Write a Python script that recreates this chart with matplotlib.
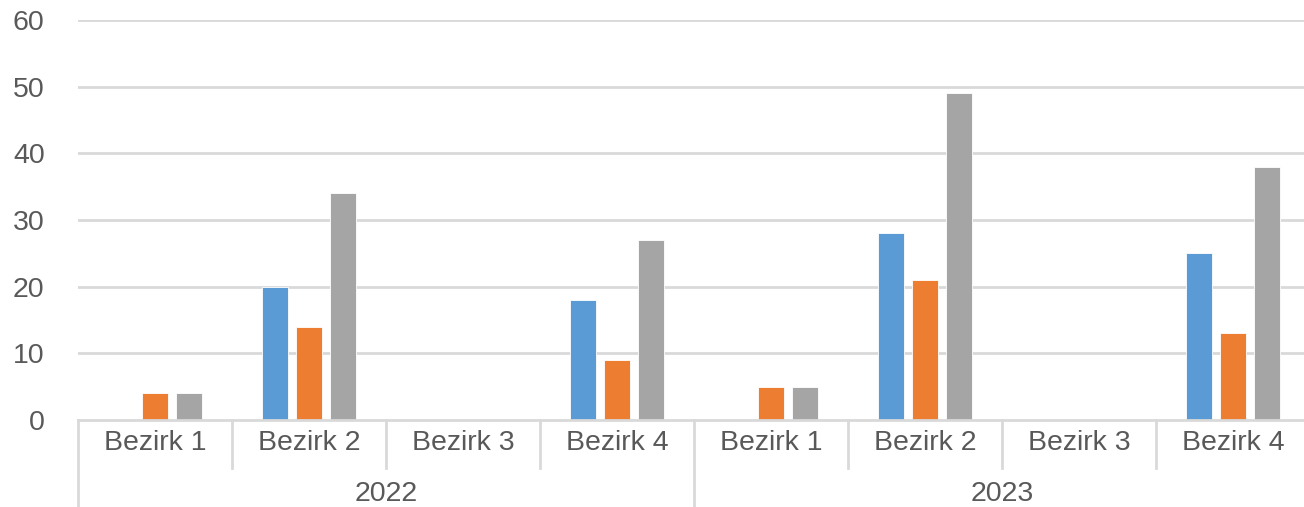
import matplotlib
matplotlib.use("Agg")
import matplotlib.pyplot as plt
import matplotlib.transforms as mtransforms
import numpy as np

years = ["2022", "2023"]
districts = ["Bezirk 1", "Bezirk 2", "Bezirk 3", "Bezirk 4"]
series_a = [0, 20, 0, 18, 0, 28, 0, 25]
series_b = [4, 14, 0, 9, 5, 21, 0, 13]
series_c = [4, 34, 0, 27, 5, 49, 0, 38]
colors = ["#5B9BD5", "#ED7D31", "#A5A5A5"]
y_ticks = [0, 10, 20, 30, 40, 50, 60]

plt.rcParams['font.family'] = ['Liberation Sans', 'DejaVu Sans']
TXT = "#595959"
GRID = "#D9D9D9"
FS = 20.5

W, H = 1304, 507
fig = plt.figure(figsize=(W / 100, H / 100), dpi=100)
left_px, right_px, top_px, bottom_px = 78, 1310, 20, 420
ax = fig.add_axes([left_px / W, (H - bottom_px) / H,
                   (right_px - left_px) / W, (bottom_px - top_px) / H])

n = len(years) * len(districts)
x = np.arange(n)
bw = 0.17
offs = [-0.22, 0.0, 0.22]
for vals, col, off in zip([series_a, series_b, series_c], colors, offs):
    ax.bar(x + off, vals, width=bw, color=col, edgecolor="white",
           linewidth=0.6, zorder=2)

ax.set_xlim(-0.5, n - 0.5)
ax.set_ylim(0, 60)
ax.set_yticks(y_ticks)
ax.set_yticklabels([str(v) for v in y_ticks], fontsize=FS, color=TXT)
ax.tick_params(axis='y', length=0, pad=24)
ax.set_xticks([])
for s in ax.spines.values():
    s.set_visible(False)
for v in y_ticks[1:]:
    ax.axhline(v, color=GRID, linewidth=2, zorder=1)
ax.axhline(0, color=GRID, linewidth=2, zorder=3, clip_on=False)

trans = mtransforms.blended_transform_factory(ax.transData, ax.transAxes)
ph = bottom_px - top_px
cat_bot = -(468 - bottom_px) / ph
year_bot = -(H + 2 - bottom_px) / ph

# category labels and separators
for i in range(n):
    ax.text(x[i], -(443 - bottom_px) / ph, districts[i % len(districts)],
            transform=trans, ha="center", va="center", fontsize=FS, color=TXT)
for b in range(n + 1):
    xb = b - 0.5
    if b % len(districts) == 0:
        ax.plot([xb, xb], [0, year_bot], transform=trans, color=GRID,
                linewidth=2, clip_on=False, zorder=3)
    else:
        ax.plot([xb, xb], [0, cat_bot], transform=trans, color=GRID,
                linewidth=2, clip_on=False, zorder=3)
for j, yr in enumerate(years):
    xc = j * len(districts) + (len(districts) - 1) / 2
    ax.text(xc, -(494 - bottom_px) / ph, yr, transform=trans, ha="center",
            va="center", fontsize=FS, color=TXT)

fig.savefig("out.png", dpi=100)
